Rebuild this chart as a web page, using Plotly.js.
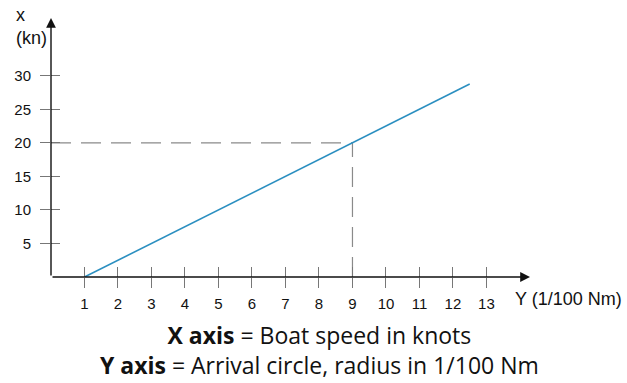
<!DOCTYPE html>
<html>
<head>
<meta charset="utf-8">
<script src="https://cdn.plot.ly/plotly-3.0.1.min.js"></script>
<style>html,body{margin:0;padding:0;background:#fff;}#chart{width:627px;height:383px;}</style>
</head>
<body>
<div id="chart"></div>
<script>
// Data
const lineX = [1, 9, 12.5];
const lineY = [0, 20, 28.75];
const guideX = 9;
const guideY = 20;
const xTickVals = [1,2,3,4,5,6,7,8,9,10,11,12,13];
const yTickVals = [5,10,15,20,25,30];
const xRange = [0, 14.3];
const yRange = [0, 38.6];

const tickFont = {family: 'Liberation Sans, Arial, sans-serif', size: 15, color: '#111'};
const labelFont = {family: 'Liberation Sans, Arial, sans-serif', size: 18, color: '#111'};
const noteFont = {family: 'Open Sans, sans-serif', size: 23, color: '#111'};

const traces = [
  { x: [xRange[0], guideX], y: [guideY, guideY], mode: 'lines', line: {color: '#8a8a8a', width: 1.2, dash: '20px,10px'}, hoverinfo: 'skip', showlegend: false },
  { x: [guideX, guideX], y: [yRange[0], guideY], mode: 'lines', line: {color: '#8a8a8a', width: 1.2, dash: '20px,10px'}, hoverinfo: 'skip', showlegend: false },
  { x: lineX, y: lineY, mode: 'lines', line: {color: '#2b8fc0', width: 1.6}, showlegend: false, cliponaxis: false },
  { x: [xRange[0]], y: [yRange[0]], xaxis: 'x2', yaxis: 'y2', mode: 'markers', marker: {opacity: 0}, hoverinfo: 'skip', showlegend: false }
];

const layout = {
  width: 627, height: 383,
  margin: {l: 51.2, r: 627 - 530, t: 18, b: 383 - 276.8},
  paper_bgcolor: '#fff', plot_bgcolor: '#fff',
  showlegend: false,
  xaxis: {
    range: xRange, tickvals: xTickVals, ticktext: xTickVals.map(String),
    ticks: 'outside', ticklen: 10, tickcolor: '#777', tickwidth: 1,
    showgrid: false, zeroline: false, showline: false,
    tickfont: tickFont, ticklabelstandoff: 3, fixedrange: true
  },
  yaxis: {
    range: yRange, tickvals: yTickVals, ticktext: yTickVals.map(String),
    ticks: 'outside', ticklen: 10, tickcolor: '#777', tickwidth: 1,
    showgrid: false, zeroline: false, showline: false,
    tickfont: tickFont, ticklabelstandoff: 6, fixedrange: true
  },
  xaxis2: {
    overlaying: 'x', anchor: 'y2', range: xRange, tickvals: xTickVals,
    ticks: 'inside', ticklen: 10, tickcolor: '#777', tickwidth: 1,
    showticklabels: false, showgrid: false, zeroline: false, showline: false, fixedrange: true
  },
  yaxis2: {
    overlaying: 'y', anchor: 'x2', range: yRange, tickvals: yTickVals,
    ticks: 'inside', ticklen: 9, tickcolor: '#777', tickwidth: 1,
    showticklabels: false, showgrid: false, zeroline: false, showline: false, fixedrange: true
  },
  annotations: [
    { x: xRange[1], y: 0, ax: 0, ay: 0, xref: 'x', yref: 'y', axref: 'x', ayref: 'y', showarrow: true, arrowhead: 2, arrowsize: 1.4, arrowwidth: 1.4, arrowcolor: '#111', text: '', standoff: 0 },
    { x: 0, y: yRange[1], ax: 0, ay: 0, xref: 'x', yref: 'y', axref: 'x', ayref: 'y', showarrow: true, arrowhead: 2, arrowsize: 1.4, arrowwidth: 1.4, arrowcolor: '#111', text: '', standoff: 0 },
    { text: 'x', xref: 'paper', yref: 'paper', x: -0.0777, y: 1.0116, xanchor: 'left', yanchor: 'middle', showarrow: false, font: labelFont },
    { text: '(kn)', xref: 'paper', yref: 'paper', x: -0.0777, y: 0.9227, xanchor: 'left', yanchor: 'middle', showarrow: false, font: labelFont },
    { text: 'Y (1/100 Nm)', xref: 'paper', yref: 'paper', x: 0.9645, y: -0.0858, xanchor: 'left', yanchor: 'middle', showarrow: false, font: labelFont },
    { text: '<b>X axis</b> = Boat speed in knots<br><b>Y axis</b> = Arrival circle, radius in 1/100 Nm', xref: 'paper', yref: 'paper', x: 0.5614, y: -0.282, xanchor: 'center', yanchor: 'middle', align: 'center', showarrow: false, font: noteFont }
  ]
};

Plotly.newPlot('chart', traces, layout, {displayModeBar: false, staticPlot: true});
</script>
</body>
</html>
